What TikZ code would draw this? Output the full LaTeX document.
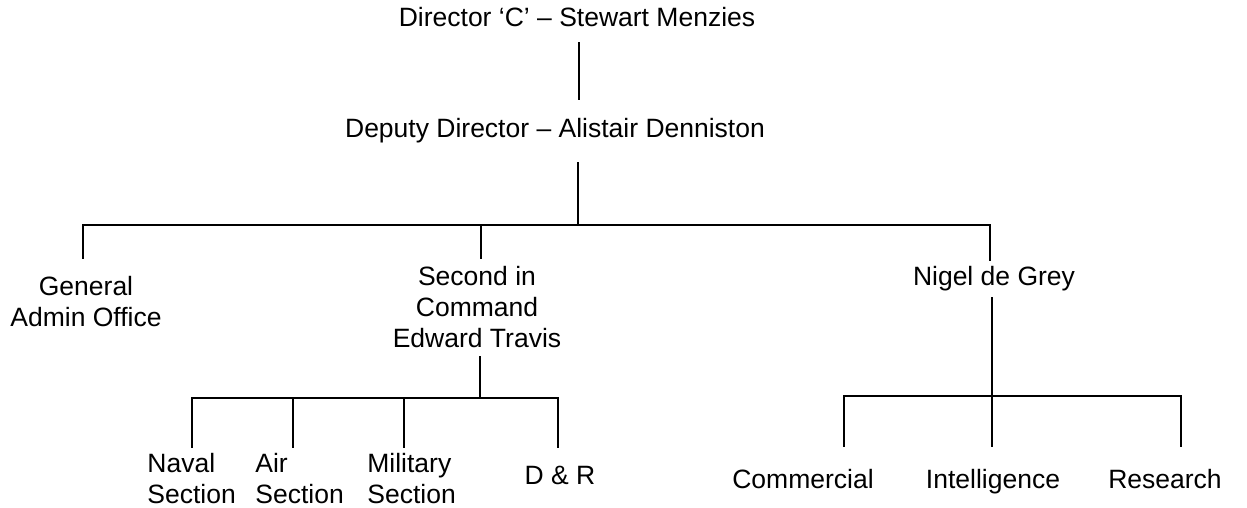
\documentclass[tikz,border=0pt]{standalone}
\usepackage{fontspec}
\setmainfont{Liberation Sans}
\usetikzlibrary{positioning}

\begin{document}
\begin{tikzpicture}[
    x=0.5pt, y=-0.5pt,
    lbl/.style={font=\fontsize{13.25}{15.5}\selectfont, inner sep=0pt, align=center},
    one/.style={lbl, text height=9.5pt, text depth=2.8pt},
    sect/.style={lbl, align=left, anchor=west, minimum height=31pt},
    link/.style={line width=1pt},
]
\useasboundingbox (0,0) rectangle (1247,508);

% Top of the chart
\node[one, minimum height=22pt] (dir) at (577,20) {Director ‘C’ – Stewart Menzies};
\node[one, minimum height=31pt] (dep) at (555,131) {Deputy Director – Alistair Denniston};

\draw[link] ([xshift=1pt]dir.south) -- ([xshift=12pt]dep.north);

% Second row
\node[lbl, minimum height=43pt] (gen) at (86,302) {General\\Admin Office};
\node[lbl, minimum height=48.5pt] (sic) at (477,307.5) {Second in\\Command\\Edward Travis};
\node[one, minimum height=18pt] (ngr) at (994,279) {Nigel de Grey};

\draw[link] ([xshift=11.5pt]dep.south) -- ++(0,63) coordinate (hub);
\draw[link] (hub) -| ([xshift=-1.5pt]gen.north);
\draw[link] (hub) -| ([xshift=2pt]sic.north);
\draw[link] (hub) -| ([xshift=-2pt]ngr.north);

% Sections under Travis
\node[sect] (nav) at (147,479) {Naval\\Section};
\node[sect] (air) at (255,479) {Air\\Section};
\node[sect] (mil) at (367,479) {Military\\Section};
\node[one, minimum height=30pt] (dnr) at (560,478) {D \& R};

\draw[link] ([xshift=1.5pt]sic.south) -- ++(0,42) coordinate (hubA);
\draw[link] (hubA) -| ([xshift=22.5pt]nav.north west);
\draw[link] (hubA) -| ([xshift=19pt]air.north west);
\draw[link] (hubA) -| ([xshift=18.5pt]mil.north west);
\draw[link] (hubA) -| ([xshift=-1pt]dnr.north);

% Sections under de Grey
\node[one, minimum height=35pt] (com) at (803,482) {Commercial};
\node[one, minimum height=35pt] (int) at (993,482) {Intelligence};
\node[one, minimum height=35pt] (res) at (1165,482) {Research};

\draw[link] ([xshift=-1pt]ngr.south) -- ++(0,99) coordinate (hubB);
\draw[link] (hubB) -| ([xshift=20.5pt]com.north);
\draw[link] (hubB) -| ([xshift=-0.5pt]int.north);
\draw[link] (hubB) -| ([xshift=8pt]res.north);

\end{tikzpicture}
\end{document}
